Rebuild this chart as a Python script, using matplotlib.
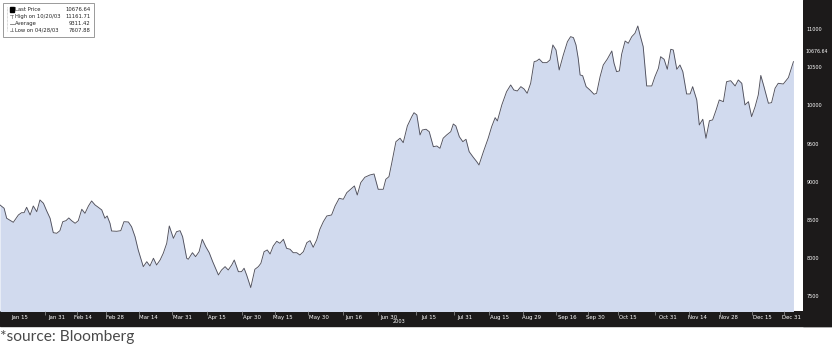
import matplotlib; matplotlib.use("Agg")
import matplotlib.pyplot as plt
from matplotlib.patches import Rectangle

# trading-day position (from first session shown) and close
day = [0.0, 1.3, 2.1, 4.2, 5.8, 6.8, 7.6, 8.4, 9.5, 10.5, 11.6, 12.6, 13.7, 14.7, 15.8, 16.8,
       17.9, 18.9, 19.8, 20.8, 21.7, 22.6, 23.7, 24.7, 25.8, 26.8, 27.9, 28.9, 30.0, 31.0, 32.1,
       33.1, 33.8, 34.7, 35.2, 36.8, 38.1, 39.1, 40.5, 41.5, 42.6, 43.6, 45.2, 46.3, 47.3, 48.4,
       49.4, 50.5,
       51.5, 52.6, 53.4, 54.7, 55.7, 56.8, 57.6, 58.9, 59.4, 60.7, 61.7, 62.8, 63.8, 64.9, 66.0,
       67.1, 68.9, 69.9, 71.0, 72.0, 73.1, 73.9, 75.2, 76.2, 77.0, 77.8, 79.1, 80.4, 81.5, 82.3,
       83.3, 84.3, 85.2, 86.2, 87.3, 88.3, 89.4, 90.4, 91.5, 92.5, 93.6, 94.6, 95.7, 96.8, 97.8,
       98.8, 99.9, 100.9,
       102.0, 103.1, 104.6, 105.7, 107.0, 108.3, 109.4, 110.6, 111.8, 112.7, 113.8, 115.1, 116.7,
       118.0, 118.8, 119.3, 120.9, 121.7, 122.7, 123.6, 124.9, 126.2, 127.2, 128.5, 129.9, 130.6,
       131.5, 132.5, 133.2, 134.4, 135.4, 136.7, 137.8, 138.8, 139.8, 140.9, 142.2, 143.0, 143.8,
       144.9, 146.0, 147.0, 148.0, 149.3, 150.4, 151.1,
       152.5, 154.0, 155.1, 156.2, 156.9, 158.3, 159.8, 161.1, 162.1, 163.2, 164.3, 165.3, 166.3,
       167.4, 168.5, 169.3, 170.1, 171.2, 172.5, 173.5, 174.4, 175.4, 176.4, 177.7, 179.0, 180.0,
       180.9, 181.7, 182.4, 183.0, 183.8, 184.9, 186.1, 187.4, 188.2, 189.3, 190.3, 191.6, 193.0,
       193.7, 194.5, 195.4, 196.1, 197.2, 198.2, 199.3, 200.3, 201.2, 201.9, 202.9, 204.0, 205.6,
       206.6, 207.7, 208.4, 209.5, 210.5, 211.6, 212.4, 213.5, 214.5, 215.4, 216.6, 217.7, 218.5,
       219.8, 220.6, 221.7, 222.7, 223.8, 224.8, 225.9, 226.9, 228.2, 229.2, 230.5, 231.9, 232.9,
       234.0, 235.0, 236.1, 237.1, 238.2, 239.2, 240.0, 241.0, 242.4, 243.4, 244.5, 245.5, 247.1,
       248.7, 250.3]
price = [8694, 8651, 8520, 8467, 8563, 8593, 8593, 8664, 8563, 8681, 8606, 8760, 8717, 8619, 8520,
         8331, 8323, 8357, 8475, 8488, 8524, 8488, 8454, 8488, 8638, 8585, 8681, 8747, 8694, 8664,
         8629, 8520, 8550, 8454, 8353, 8349, 8357, 8475, 8471, 8409, 8278, 8104, 7885, 7950, 7894,
         7995, 7907, 7972,
         8060, 8192, 8419, 8257, 8344, 8357, 8278, 7995, 7982, 8068, 8016, 8081, 8244, 8147, 8068,
         7950, 7776, 7841, 7885, 7841, 7907, 7972, 7819, 7819, 7864, 7776, 7610, 7850, 7885, 7929,
         8081, 8104, 8051, 8156, 8218, 8192, 8244, 8126, 8113, 8068, 8068, 8038, 8081, 8200, 8226,
         8139, 8235, 8375,
         8475, 8550, 8563, 8681, 8782, 8769, 8856, 8900, 8944, 8825, 8987, 9058, 9088, 9101, 8979,
         8900, 8900, 9031, 9066, 9249, 9525, 9570, 9512, 9731, 9853, 9905, 9875, 9613, 9678, 9688,
         9656, 9459, 9468, 9438, 9570, 9613, 9656, 9757, 9731, 9590, 9525, 9556, 9394, 9320, 9262,
         9219,
         9394, 9570, 9722, 9840, 9797, 10007, 10181, 10269, 10203, 10190, 10247, 10217, 10160,
         10291, 10575, 10584, 10610, 10562, 10562, 10597, 10794, 10728, 10466, 10663, 10837, 10903,
         10890, 10794, 10619, 10400, 10391, 10247, 10203, 10147, 10160, 10378, 10531, 10610, 10715,
         10554, 10444, 10453, 10672, 10846, 10816, 10903, 10947, 11043, 10925, 10772, 10256, 10256,
         10378, 10488, 10640, 10606, 10475, 10737, 10728, 10475, 10531, 10444, 10151, 10151, 10247,
         10072, 9744, 9819, 9570, 9800, 9810, 9941, 10072, 10050, 10312, 10325, 10256, 10335,
         10291, 10007, 10050, 9853, 9984, 10138, 10394, 10247, 10029, 10037, 10226, 10291, 10282,
         10365, 10575]

tick_day = [6.3, 18.0, 26.2, 36.3, 46.7, 57.4, 68.5, 79.5, 89.3, 100.6, 111.7, 122.7, 135.3,
            146.7, 157.7, 167.8, 178.9, 187.7, 198.1, 210.7, 219.9, 229.7, 240.4, 249.8]
tick_lab = ["Jan 15", "Jan 31", "Feb 14", "Feb 28", "Mar 14", "Mar 31", "Apr 15", "Apr 30",
            "May 15", "May 30", "Jun 16", "Jun 30", "Jul 15", "Jul 31", "Aug 15", "Aug 29",
            "Sep 16", "Sep 30", "Oct 15", "Oct 31", "Nov 14", "Nov 28", "Dec 15", "Dec 31"]
year_lab = "2003"
yticks = [7500, 8000, 8500, 9000, 9500, 10000, 10500, 11000]
leg_lab = ["Last Price", "High on 10/20/03", "Average", "Low on 04/28/03"]
leg_val = ["10676.64", "11161.71", "9311.42", "7607.88"]

W, H = 832, 345
BLK, FILL, LINE = "#1c1a1a", "#d1daee", "#50505c"
fig = plt.figure(figsize=(W / 100, H / 100), dpi=100)
fx = lambda x: x / W
fy = lambda y: 1 - y / H

# black frame: bottom date bar and right price panel (behind the axes)
fig.patches.append(Rectangle((0, fy(326)), 1, 15 / H, transform=fig.transFigure, color=BLK, zorder=-2))
fig.patches.append(Rectangle((fx(803), fy(326)), 29 / W, 326 / H, transform=fig.transFigure, color=BLK, zorder=-2))

ax = fig.add_axes([0, fy(311), fx(803), 311 / H])
ax.fill_between(day, price, 7000, color=FILL, lw=0)
ax.plot(day, price, color=LINE, lw=0.65)
ax.set_xlim(0, 803 / 3.17)
ax.set_ylim(7303, 11384)
for s in ax.spines.values():
    s.set_visible(False)

ax.yaxis.tick_right()
ax.set_yticks(yticks)
ax.set_yticklabels([str(v) for v in yticks])
ax.tick_params(axis="y", length=0, pad=2.5, labelsize=3.5, labelcolor="white")

ax.set_xticks(tick_day)
ax.set_xticklabels(tick_lab)
ax.tick_params(axis="x", length=0, pad=3, labelsize=3.9, labelcolor="white")
mids = [(a + b) / 2 + 2.2 for a, b in zip(tick_day[:-1], tick_day[1:])]
ax.set_xticks(mids, minor=True)
ax.tick_params(axis="x", which="minor", length=3, width=0.5, color="#9a9a9a")
ax.text((tick_day[11] + tick_day[12]) / 2 - 3, -0.033, year_lab, transform=ax.get_xaxis_transform(),
        fontsize=3.6, color="white", ha="center", va="center")

# last price tag on the right panel
ax.annotate(leg_val[0], xy=(1, price[-1]), xycoords=("axes fraction", "data"),
            xytext=(1.8, 7.5), textcoords="offset points", fontsize=3.4, color="white",
            va="center", ha="left", annotation_clip=False)

# legend box, top-left
fig.patches.append(Rectangle((fx(2.5), fy(36.5)), 91 / W, 34 / H, transform=fig.transFigure,
                             facecolor="white", edgecolor="#8a8a8a", lw=0.6, zorder=5))
fig.add_artist(plt.Line2D([fx(7), fx(7)], [fy(7), fy(31)], color="#b0b0b0", lw=0.5, ls=(0, (1, 1)), zorder=6))
for i, (lab, val) in enumerate(zip(leg_lab, leg_val)):
    yy = fy(9.5 + 7 * i)
    fig.text(fx(15), yy, lab, fontsize=3.8, va="center", ha="left", color="#222222", zorder=7)
    fig.text(fx(90.5), yy, val, fontsize=3.8, va="center", ha="right", color="#222222", zorder=7)
fig.add_artist(Rectangle((fx(9.5), fy(12)), 4.5 / W, 5 / H, transform=fig.transFigure, color="black", zorder=7))
fig.add_artist(plt.Line2D([fx(10), fx(13)], [fy(14.5), fy(14.5)], color="#777777", lw=0.5, zorder=7))
fig.add_artist(plt.Line2D([fx(11.5), fx(11.5)], [fy(14.5), fy(18)], color="#777777", lw=0.5, zorder=7))
fig.add_artist(plt.Line2D([fx(9.5), fx(13.5)], [fy(23.5), fy(23.5)], color="#777777", lw=0.6, zorder=7))
fig.add_artist(plt.Line2D([fx(11.5), fx(11.5)], [fy(27.5), fy(31)], color="#777777", lw=0.5, zorder=7))
fig.add_artist(plt.Line2D([fx(10), fx(13)], [fy(31), fy(31)], color="#777777", lw=0.5, zorder=7))

fig.text(0, fy(337.5), "*source: Bloomberg", fontsize=11.2, family="Lato", color="#4a4a4a",
         va="center", ha="left")

fig.savefig("out.png", dpi=100)
